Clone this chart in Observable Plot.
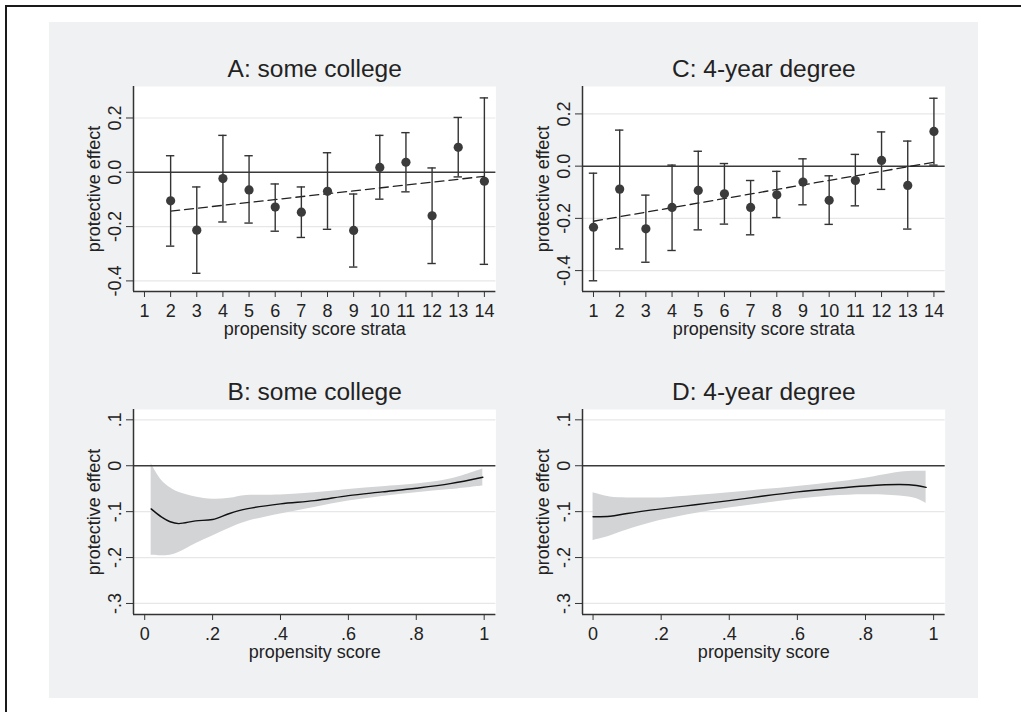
<!DOCTYPE html>
<html><head><meta charset="utf-8">
<script src="https://cdn.jsdelivr.net/npm/d3@7"></script>
<script src="https://cdn.jsdelivr.net/npm/@observablehq/plot@0.6"></script>
<style>
html,body{margin:0;padding:0;background:#fff;}
body{width:1021px;height:712px;overflow:hidden;position:relative;font-family:"Liberation Sans",Arial,sans-serif;}
#border{position:absolute;left:5px;top:5px;right:-10px;bottom:-10px;border-top:2px solid #1a1a1a;border-left:2px solid #1a1a1a;}
#bg{position:absolute;left:49px;top:22px;width:929px;height:676px;background:#f0f1f3;}
</style></head><body>
<div id="border"></div><div id="bg"></div>
<script>
// ---------- Panel A: some college, strata estimates ----------
const strataA = [2, 3, 4, 5, 6, 7, 8, 9, 10, 11, 12, 13, 14];
const effA = [-0.105, -0.213, -0.023, -0.065, -0.128, -0.147, -0.070, -0.214, 0.018, 0.037, -0.160, 0.092, -0.033];
const loA  = [-0.272, -0.372, -0.183, -0.187, -0.217, -0.240, -0.210, -0.349, -0.099, -0.072, -0.336, -0.017, -0.339];
const hiA  = [0.061, -0.054, 0.136, 0.061, -0.043, -0.054, 0.072, -0.080, 0.136, 0.146, 0.016, 0.202, 0.274];
const fitXA = [2, 14];
const fitYA = [-0.143, -0.015];

// ---------- Panel C: 4-year degree, strata estimates ----------
const strataC = [1, 2, 3, 4, 5, 6, 7, 8, 9, 10, 11, 12, 13, 14];
const effC = [-0.234, -0.088, -0.240, -0.158, -0.093, -0.106, -0.158, -0.110, -0.061, -0.131, -0.055, 0.022, -0.074, 0.133];
const loC  = [-0.439, -0.317, -0.368, -0.323, -0.244, -0.222, -0.263, -0.197, -0.148, -0.223, -0.152, -0.089, -0.241, 0.004];
const hiC  = [-0.027, 0.138, -0.111, 0.004, 0.057, 0.010, -0.055, -0.020, 0.028, -0.037, 0.045, 0.131, 0.096, 0.260];
const fitXC = [1, 14];
const fitYC = [-0.211, 0.015];

// ---------- Panel B: some college, smooth over propensity score ----------
const psB  = [0.019, 0.05, 0.075, 0.1, 0.15, 0.2, 0.25, 0.3, 0.4, 0.5, 0.6, 0.7, 0.8, 0.9, 0.996];
const estB = [-0.094, -0.112, -0.122, -0.126, -0.120, -0.117, -0.104, -0.094, -0.083, -0.076, -0.065, -0.057, -0.049, -0.039, -0.025];
const hiB  = [0.005, -0.032, -0.048, -0.058, -0.068, -0.073, -0.071, -0.065, -0.064, -0.059, -0.052, -0.046, -0.040, -0.029, -0.007];
const loB  = [-0.195, -0.196, -0.195, -0.189, -0.170, -0.153, -0.136, -0.122, -0.105, -0.091, -0.077, -0.067, -0.059, -0.052, -0.044];

// ---------- Panel D: 4-year degree, smooth over propensity score ----------
const psD  = [0, 0.05, 0.1, 0.2, 0.3, 0.4, 0.5, 0.6, 0.7, 0.8, 0.9, 0.95, 0.978];
const estD = [-0.111, -0.110, -0.104, -0.094, -0.085, -0.076, -0.066, -0.057, -0.050, -0.044, -0.041, -0.043, -0.047];
const hiD  = [-0.059, -0.068, -0.070, -0.070, -0.065, -0.059, -0.052, -0.045, -0.037, -0.027, -0.014, -0.012, -0.012];
const loD  = [-0.163, -0.153, -0.140, -0.119, -0.104, -0.092, -0.082, -0.073, -0.066, -0.063, -0.066, -0.072, -0.082];

// ---------- Ticks and labels ----------
const strataTicks = [1, 2, 3, 4, 5, 6, 7, 8, 9, 10, 11, 12, 13, 14];
const strataTickLabels = ["1","2","3","4","5","6","7","8","9","10","11","12","13","14"];
const psTicks = [0, 0.2, 0.4, 0.6, 0.8, 1];
const psTickLabels = ["0", ".2", ".4", ".6", ".8", "1"];
const effTicksTop = [0.2, 0, -0.2, -0.4];
const effTickLabelsTop = ["0.2", "0.0", "-0.2", "-0.4"];
const effTicksBottom = [0.1, 0, -0.1, -0.2, -0.3];
const effTickLabelsBottom = [".1", "0", "-.1", "-.2", "-.3"];

const titles = ["A: some college", "B: some college", "C: 4-year degree", "D: 4-year degree"];
const xLabels = ["propensity score strata", "propensity score"];
const yLabel = "protective effect";

// ---------- tables built from arrays ----------
const tableA = strataA.map((x, i) => ({x, y: effA[i], lo: loA[i], hi: hiA[i]}));
const tableC = strataC.map((x, i) => ({x, y: effC[i], lo: loC[i], hi: hiC[i]}));
const fitA = fitXA.map((x, i) => ({x, y: fitYA[i]}));
const fitC = fitXC.map((x, i) => ({x, y: fitYC[i]}));
const tableB = psB.map((x, i) => ({x, y: estB[i], lo: loB[i], hi: hiB[i]}));
const tableD = psD.map((x, i) => ({x, y: estD[i], lo: loD[i], hi: hiD[i]}));

const FONT = '"Liberation Sans", Arial, Helvetica, sans-serif';
const INK = "#222";
const CAP = 0.16;

function strataMarks(table, fit) {
  return [
    Plot.ruleY([0], {stroke: "#3a3a3a", strokeWidth: 1.5}),
    Plot.line(fit, {x: "x", y: "y", stroke: "#222", strokeWidth: 1.3, strokeDasharray: "9,5"}),
    Plot.ruleX(table, {x: "x", y1: "lo", y2: "hi", stroke: "#333", strokeWidth: 1.4}),
    Plot.ruleY(table, {y: "hi", x1: d => d.x - CAP, x2: d => d.x + CAP, stroke: "#333", strokeWidth: 1.4}),
    Plot.ruleY(table, {y: "lo", x1: d => d.x - CAP, x2: d => d.x + CAP, stroke: "#333", strokeWidth: 1.4}),
    Plot.dot(table, {x: "x", y: "y", r: 4.6, fill: "#3b3b3b", stroke: "none"})
  ];
}
function smoothMarks(table) {
  return [
    Plot.areaY(table, {x: "x", y1: "lo", y2: "hi", fill: "#d3d4d6", curve: "catmull-rom"}),
    Plot.ruleY([0], {stroke: "#3a3a3a", strokeWidth: 1.5}),
    Plot.line(table, {x: "x", y: "y", stroke: "#111", strokeWidth: 1.4, curve: "catmull-rom"})
  ];
}

function panel({frame: [L, T, R, B], xDomain, yDomain, xTicks, xTickLabels, yTicks, yTickLabels, title, xLabel, marks}) {
  const ml = 80, mt = 50, mr = 15, mb = 60;
  const xFmt = new Map(xTicks.map((t, i) => [t, xTickLabels[i]]));
  const yFmt = new Map(yTicks.map((t, i) => [t, yTickLabels[i]]));
  const svg = Plot.plot({
    width: R - L + ml + mr,
    height: B - T + mt + mb,
    marginLeft: ml, marginTop: mt, marginRight: mr, marginBottom: mb,
    x: {domain: xDomain},
    y: {domain: yDomain},
    style: {background: "none", fontFamily: FONT, fontSize: "18px", color: INK, overflow: "visible"},
    marks: [
      Plot.frame({fill: "white", stroke: "none"}),
      Plot.gridY(yTicks.filter(t => t !== 0), {stroke: "#e6e7e9", strokeOpacity: 1, strokeWidth: 1.2}),
      ...marks,
      Plot.ruleX([xDomain[0]], {stroke: "#333", strokeWidth: 1.5}),
      Plot.ruleY([yDomain[0]], {stroke: "#333", strokeWidth: 1.5}),
      Plot.axisX({ticks: xTicks, tickFormat: d => xFmt.get(d), tickSize: 6, tickPadding: 7, label: null, stroke: "#333", fill: INK, fontSize: 18}),
      Plot.axisY({ticks: yTicks, tickFormat: d => yFmt.get(d), tickRotate: -90, tickSize: 7, tickPadding: 6, label: null, stroke: "#333", fill: INK, fontSize: 18}),
      Plot.text([title], {text: d => d, frameAnchor: "top", textAnchor: "middle", lineAnchor: "bottom", dy: -9, fontSize: 24.5, fill: INK}),
      Plot.text([xLabel], {text: d => d, frameAnchor: "bottom", textAnchor: "middle", lineAnchor: "bottom", dy: 44, fontSize: 18, fill: INK}),
      Plot.text([yLabel], {text: d => d, frameAnchor: "left", textAnchor: "middle", rotate: -90, lineAnchor: "bottom", dx: -34, fontSize: 18, fill: INK})
    ]
  });
  svg.style.position = "absolute";
  svg.style.left = (L - ml) + "px";
  svg.style.top = (T - mt) + "px";
  svg.style.maxWidth = "none";
  document.body.appendChild(svg);
}

panel({frame: [133.3, 85.7, 495.7, 290.7], xDomain: [0.58, 14.44], yDomain: [-0.439, 0.316],
  xTicks: strataTicks, xTickLabels: strataTickLabels, yTicks: effTicksTop, yTickLabels: effTickLabelsTop,
  title: titles[0], xLabel: xLabels[0], marks: strataMarks(tableA, fitA)});
panel({frame: [582.3, 85.7, 945, 290.7], xDomain: [0.58, 14.43], yDomain: [-0.48, 0.305],
  xTicks: strataTicks, xTickLabels: strataTickLabels, yTicks: effTicksTop, yTickLabels: effTickLabelsTop,
  title: titles[2], xLabel: xLabels[0], marks: strataMarks(tableC, fitC)});
panel({frame: [133.3, 409.3, 495.7, 614.3], xDomain: [-0.033, 1.0345], yDomain: [-0.324, 0.1225],
  xTicks: psTicks, xTickLabels: psTickLabels, yTicks: effTicksBottom, yTickLabels: effTickLabelsBottom,
  title: titles[1], xLabel: xLabels[1], marks: smoothMarks(tableB)});
panel({frame: [582.3, 409.3, 945, 614.3], xDomain: [-0.031, 1.034], yDomain: [-0.324, 0.1225],
  xTicks: psTicks, xTickLabels: psTickLabels, yTicks: effTicksBottom, yTickLabels: effTickLabelsBottom,
  title: titles[3], xLabel: xLabels[1], marks: smoothMarks(tableD)});
</script>
</body></html>
